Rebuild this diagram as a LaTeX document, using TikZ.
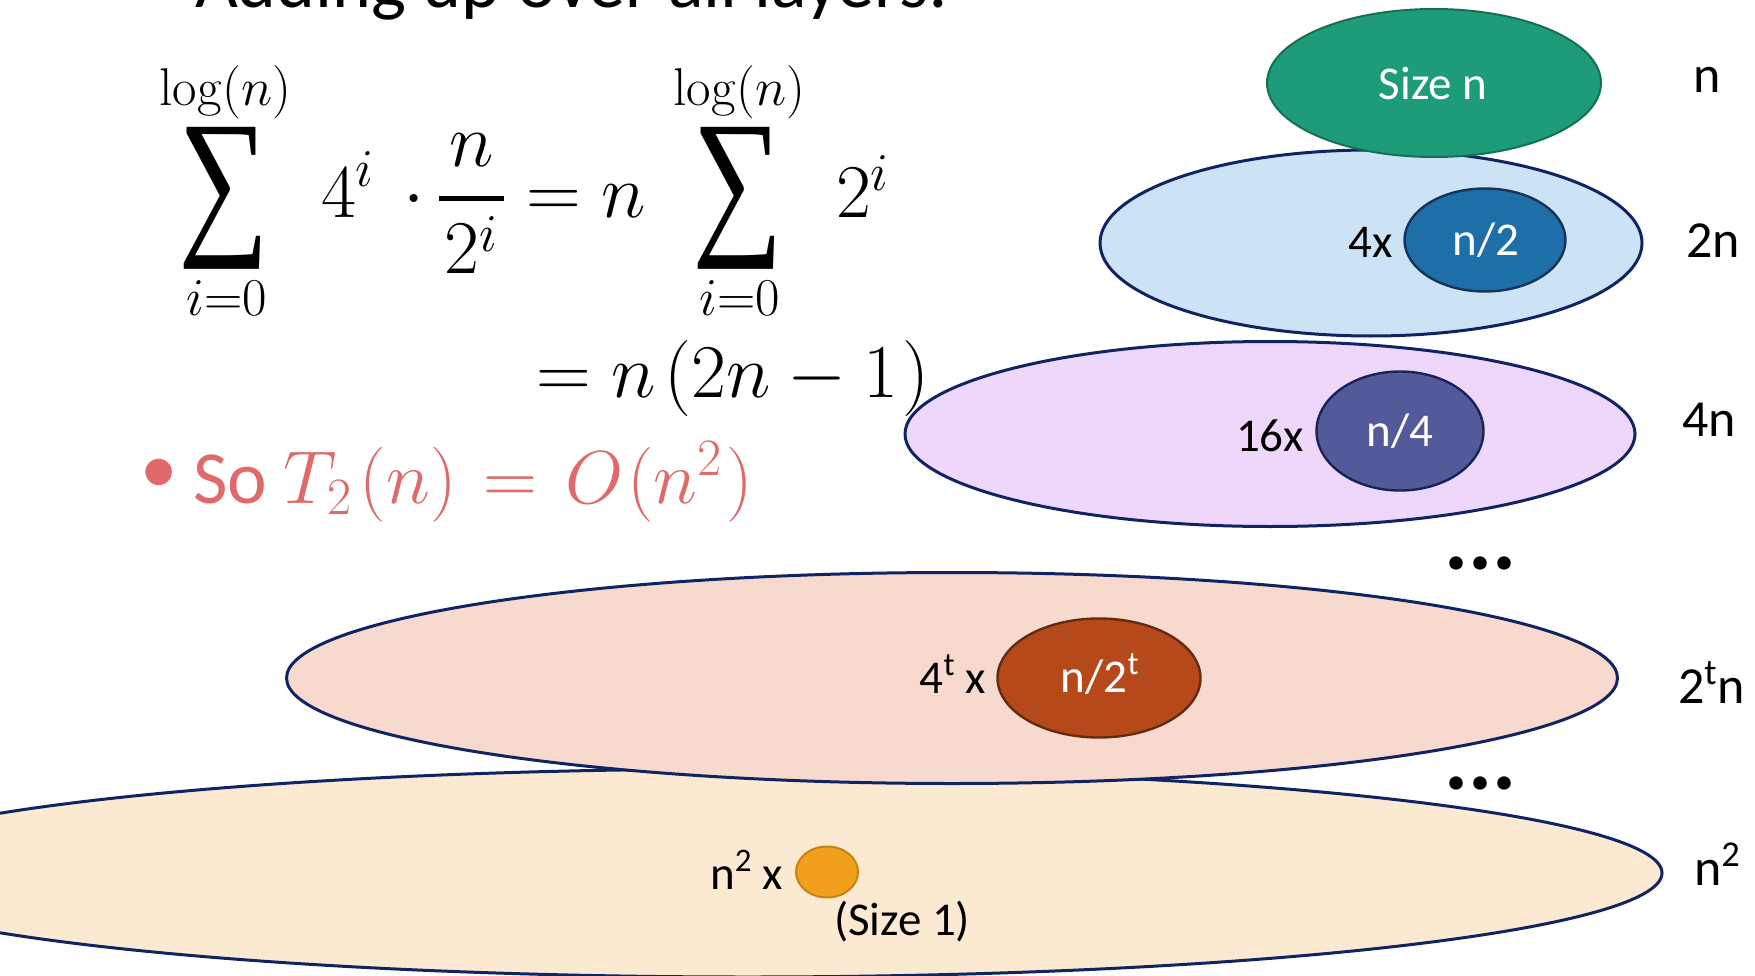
\RequirePackage{fix-cm}
\documentclass[tikz,border=0pt]{standalone}
\usepackage{amsmath}
\usepackage[no-math]{fontspec}
\setmainfont{Carlito}
\newfontfamily\sumfont{Liberation Serif}
\usepackage{graphicx}
\usetikzlibrary{shapes.geometric}
\definecolor{navy}{RGB}{16,36,100}
\definecolor{greenfill}{RGB}{30,155,120}
\definecolor{greenline}{RGB}{22,110,85}
\definecolor{lblue}{RGB}{204,227,245}
\definecolor{bluefill}{RGB}{30,111,168}
\definecolor{blueline}{RGB}{22,52,90}
\definecolor{lpurple}{RGB}{239,215,252}
\definecolor{purplefill}{RGB}{83,90,153}
\definecolor{purpleline}{RGB}{25,35,90}
\definecolor{salmon}{RGB}{247,217,205}
\definecolor{rustfill}{RGB}{181,73,25}
\definecolor{rustline}{RGB}{100,42,18}
\definecolor{beige}{RGB}{252,233,210}
\definecolor{orangefill}{RGB}{240,160,28}
\definecolor{orangeline}{RGB}{200,130,20}
\definecolor{redtext}{RGB}{224,106,106}
\newcommand\myfs[1]{\fontsize{#1}{#1}\selectfont}
\newcommand\bigsum{\resizebox*{91pt}{142pt}{\sumfont ∑}}
\begin{document}
\begin{tikzpicture}[x=1pt,y=-1pt,
  every node/.style={inner sep=0pt,outer sep=0pt},
  layer/.style={ellipse,draw=navy,line width=3pt},
  inner/.style={ellipse,line width=2.4pt},
  mathtxt/.style={font=\myfs{76}},
  sidelbl/.style={anchor=base west,font=\myfs{52}},
  inlbl/.style={font=\myfs{47}},
  dotlbl/.style={anchor=base west,font=\myfs{90}\bfseries}]
\useasboundingbox (0,0) rectangle (1755,976);
% layers
\node[layer,fill=lblue,minimum width=542pt,minimum height=186pt] (L1) at (1371,243) {};
\node[ellipse,draw=greenline,line width=2pt,fill=greenfill,minimum width=334pt,minimum height=148pt] (L0) at (1434,83) {};
\node[inner,draw=blueline,fill=bluefill,minimum width=161pt,minimum height=103pt] (C1) at (1485,240) {};
\node[layer,fill=lpurple,minimum width=730pt,minimum height=185pt] (L2) at (1270,434) {};
\node[inner,draw=purpleline,fill=purplefill,minimum width=167pt,minimum height=119pt] (C2) at (1400,431) {};
\node[layer,fill=beige,minimum width=1828pt,minimum height=208pt] (L4) at (748,873) {};
\node[layer,fill=salmon,minimum width=1331pt,minimum height=211pt] (L3) at (952,678) {};
\node[inner,draw=rustline,fill=rustfill,minimum width=203pt,minimum height=119pt] (C3) at (1099,678) {};
\node[ellipse,draw=orangeline,line width=2pt,fill=orangefill,minimum width=62pt,minimum height=51pt] (C4) at (827,872) {};
% inner labels
\node[inlbl,anchor=base,text=white] (sizen) at (1433,100) {Size n};
\node[inlbl,anchor=base,text=white] (half) at (1486,256) {n/2};
\node[inlbl,anchor=base east] (four) at (1393,258) {4x};
\node[inlbl,anchor=base,text=white] (quarter) at (1400,446) {n/4};
\node[inlbl,anchor=base east] (sixteen) at (1304,451) {16x};
\node[inlbl,anchor=base,text=white] (halft) at (1100,692) {n/2\textsuperscript{t}};
\node[inlbl,anchor=base east] (fourt) at (986,693) {4\textsuperscript{t} x};
\node[inlbl,anchor=base east] (nsq) at (783,889) {n\textsuperscript{2} x};
\node[inlbl,anchor=base west] (size1) at (834,935) {(Size 1)};
% side labels
\node[sidelbl] (s0) at (1693,93) {n};
\node[sidelbl] (s1) at (1686,258) {2n};
\node[sidelbl] (s2) at (1682,436) {4n};
\node[sidelbl] (s3) at (1678,703) {2\textsuperscript{t}n};
\node[sidelbl] (s4) at (1694,885) {n\textsuperscript{2}};
\node[dotlbl] (dots1) at (1444,569) {...};
\node[dotlbl] (dots2) at (1444,789) {...};
% title
\node[anchor=base west,font=\myfs{74}] (title) at (195,8) {Adding up over all layers:};
% first line of math
\node[mathtxt] (sum1) at (223.5,198) {\bigsum};
\node[mathtxt,anchor=base] (up1) at (225.5,106) {$\scriptstyle\log(n)$};
\node[mathtxt,anchor=base] (lo1) at (227,315) {$\scriptstyle i=0$};
\node[mathtxt,anchor=base west] (t1) at (321,218) {$\displaystyle 4^{i}\mkern3mu\cdot\mkern-1mu\genfrac{}{}{5pt}{0}{n}{\mkern1.5mu 2^{i}\mkern1.5mu}$};
\node[mathtxt,anchor=base west] (eq1) at (526,218) {$=n$};
\node[mathtxt] (sum2) at (737.5,198) {\bigsum};
\node[mathtxt,anchor=base] (up2) at (739.5,106) {$\scriptstyle\log(n)$};
\node[mathtxt,anchor=base] (lo2) at (739.5,315) {$\scriptstyle i=0$};
\node[mathtxt,anchor=base west] (t2) at (836,218) {$2^{i}$};
% second line
\node[mathtxt,anchor=base west] (eq2) at (536,397) {$= n\mkern2mu(2n - 1\mkern1mu)$};
% conclusion
\node[text=redtext,font=\myfs{75}] (bul) at (159,476) {•};
\node[anchor=base west,text=redtext,font=\myfs{75}] (so) at (193,503) {So $T_2\mkern2mu(n)\mkern1.5mu=\mkern1.5mu O\mkern1mu(n^2\mkern1mu)$};
\end{tikzpicture}
\end{document}
